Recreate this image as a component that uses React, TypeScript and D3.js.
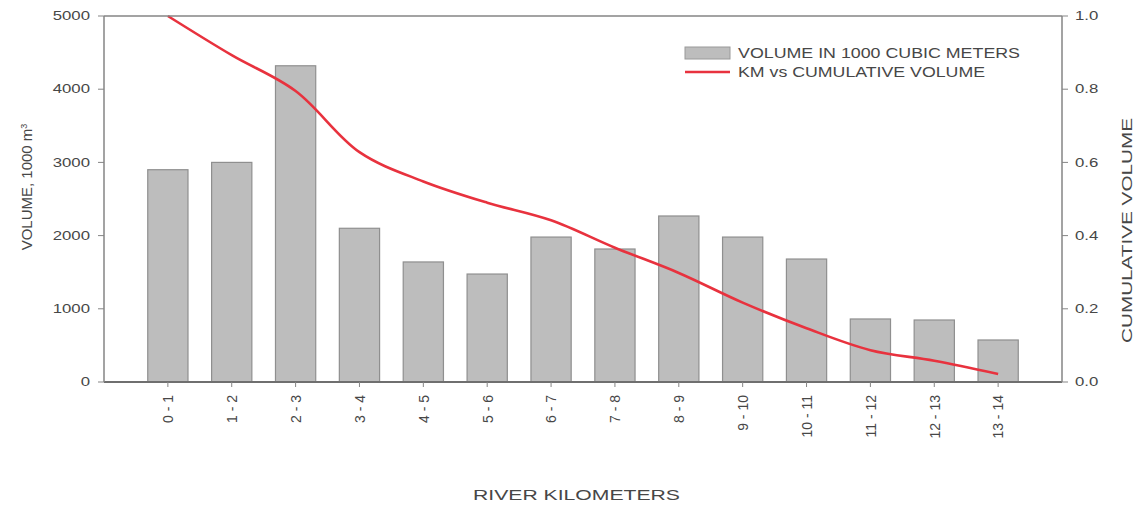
import React from "react";
import * as d3 from "d3";

const categories = ["0 - 1", "1 - 2", "2 - 3", "3 - 4", "4 - 5", "5 - 6", "6 - 7", "7 - 8", "8 - 9", "9 - 10", "10 - 11", "11 - 12", "12 - 13", "13 - 14"];
const volumes = [2900, 3000, 4320, 2100, 1640, 1475, 1980, 1817, 2268, 1980, 1680, 861, 847, 574];
const cumulative = [1.0, 0.893, 0.795, 0.628, 0.548, 0.49, 0.442, 0.367, 0.298, 0.217, 0.147, 0.087, 0.058, 0.022];
const leftTicks = [0, 1000, 2000, 3000, 4000, 5000];
const rightTicks = [0, 0.2, 0.4, 0.6, 0.8, 1.0];

const W = 1138;
const H = 510;
const L = 104, R = 1062, T = 16, B = 382;
const TXT = "#474747";
const AX = "#858585";
const FONT = "'Liberation Sans', Arial, sans-serif";

export default function App() {
  const x = d3.scaleLinear().domain([0, categories.length + 1]).range([L, R]);
  const yL = d3.scaleLinear().domain([0, 5000]).range([B, T]);
  const yR = d3.scaleLinear().domain([0, 1]).range([B, T]);
  const step = x(1) - x(0);
  const bw = step * 0.63;
  const line = d3
    .line<number>()
    .x((_, i) => x(i + 1))
    .y((d) => yR(d))
    .curve(d3.curveCatmullRom.alpha(0.5));

  return (
    <svg width={W} height={H} style={{ position: "absolute", left: 0, top: 0, background: "#fff" }} fontFamily={FONT}>
      {/* bars */}
      {volumes.map((v, i) => (
        <rect
          key={i}
          x={x(i + 1) - bw / 2}
          y={yL(v)}
          width={bw}
          height={B - yL(v)}
          fill="#bdbdbd"
          stroke="#8f8f8f"
          strokeWidth={1.2}
        />
      ))}
      {/* cumulative line */}
      <path d={line(cumulative) || ""} fill="none" stroke="#e8323e" strokeWidth={2.6} />

      {/* frame */}
      <line x1={L} x2={R} y1={T} y2={T} stroke={AX} strokeWidth={1.5} />
      <line x1={L} x2={R} y1={B} y2={B} stroke="#6f6f6f" strokeWidth={1.8} />
      <line x1={L} x2={L} y1={T} y2={B} stroke={AX} strokeWidth={1.5} />
      <line x1={R} x2={R} y1={T} y2={B} stroke={AX} strokeWidth={1.5} />

      {/* left axis */}
      {leftTicks.map((t) => (
        <g key={"l" + t}>
          <line x1={L - 6} x2={L} y1={yL(t)} y2={yL(t)} stroke={AX} strokeWidth={1} />
          <g transform={`translate(${L - 14},${yL(t)}) scale(1.4,1)`}>
            <text textAnchor="end" dy="0.35em" fontSize={12} fill={TXT}>
              {t}
            </text>
          </g>
        </g>
      ))}
      {/* right axis */}
      {rightTicks.map((t) => (
        <g key={"r" + t}>
          <line x1={R} x2={R + 6} y1={yR(t)} y2={yR(t)} stroke={AX} strokeWidth={1} />
          <g transform={`translate(${R + 13},${yR(t)}) scale(1.4,1)`}>
            <text textAnchor="start" dy="0.35em" fontSize={12} fill={TXT}>
              {t.toFixed(1)}
            </text>
          </g>
        </g>
      ))}
      {/* x axis */}
      {categories.map((c, i) => (
        <g key={"x" + i}>
          <line x1={x(i + 1)} x2={x(i + 1)} y1={B} y2={B + 5} stroke={AX} strokeWidth={1} />
          <text
            transform={`translate(${x(i + 1)},${B + 13}) rotate(-90)`}
            textAnchor="end"
            dy="0.38em"
            fontSize={14}
            fill={TXT}
          >
            {c}
          </text>
        </g>
      ))}

      {/* axis titles */}
      <text
        transform={`translate(27,${(126 + 248) / 2}) rotate(-90)`}
        textAnchor="middle"
        dy="0.35em"
        fontSize={15}
        fill={TXT}
      >
        VOLUME, 1000 m<tspan dy="-0.6em" fontSize={9}>3</tspan>
      </text>
      <text
        transform={`translate(1127,${(118 + 343) / 2}) rotate(-90)`}
        textAnchor="middle"
        dy="0.35em"
        fontSize={14.5}
        fill={TXT}
        textLength={225}
        lengthAdjust="spacingAndGlyphs"
      >
        CUMULATIVE VOLUME
      </text>
      <text
        x={473}
        y={495}
        dy="0.35em"
        fontSize={15.5}
        fill={TXT}
        textLength={207}
        lengthAdjust="spacingAndGlyphs"
      >
        RIVER KILOMETERS
      </text>

      {/* legend */}
      <rect x={685} y={47} width={45} height={12} fill="#bdbdbd" stroke="#9a9a9a" strokeWidth={1} />
      <text x={738} y={53} dy="0.35em" fontSize={14} fill={TXT} textLength={282} lengthAdjust="spacingAndGlyphs">
        VOLUME IN 1000 CUBIC METERS
      </text>
      <line x1={685} x2={730} y1={72} y2={72} stroke="#e8323e" strokeWidth={2.6} />
      <text x={738} y={72} dy="0.35em" fontSize={14} fill={TXT} textLength={247} lengthAdjust="spacingAndGlyphs">
        KM vs CUMULATIVE VOLUME
      </text>
    </svg>
  );
}
